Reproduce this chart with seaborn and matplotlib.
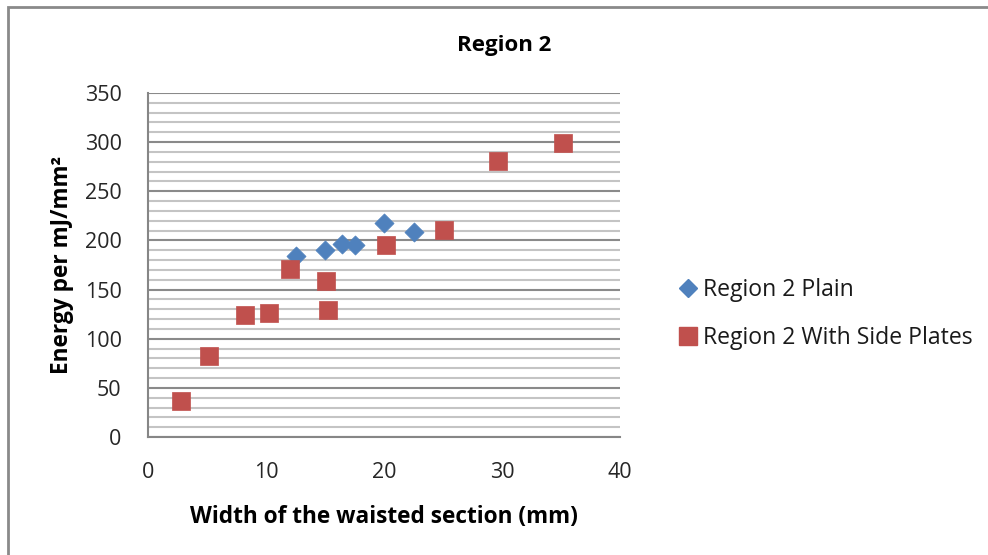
import matplotlib
matplotlib.use("Agg")
import matplotlib.pyplot as plt
import seaborn as sns
import pandas as pd
from matplotlib.lines import Line2D
from matplotlib.patches import Rectangle

# Data
plain_x = [12.5, 15.0, 16.4, 17.5, 20.0, 22.5]
plain_y = [184, 190, 196, 195, 218, 208.5]
side_x = [2.8, 5.2, 8.2, 10.25, 12.0, 15.1, 15.25, 20.2, 25.1, 29.7, 35.2]
side_y = [36.5, 82, 124, 126, 171, 159, 129, 195, 210.5, 281, 299]
series_names = ["Region 2 Plain", "Region 2 With Side Plates"]
title = "Region 2"
xlabel = "Width of the waisted section (mm)"
ylabel = "Energy per mJ/mm²"
x_ticks = [0, 10, 20, 30, 40]
y_ticks = [0, 50, 100, 150, 200, 250, 300, 350]

sns.set_theme(style="white")
plt.rcParams['font.family'] = ['Open Sans', 'DejaVu Sans']

BLUE = "#4F81BD"
RED = "#C0504D"
AXC = "#868686"

fig = plt.figure(figsize=(9.88, 5.55), dpi=100)
ax = fig.add_axes([148/988, 1-437/555, (620-148)/988, (437-93)/555])

df_plain = pd.DataFrame({"x": plain_x, "y": plain_y})
df_side = pd.DataFrame({"x": side_x, "y": side_y})

# grid: major every 50, minor every 10
for v in range(0, 351, 10):
    if v % 50 == 0:
        ax.axhline(v, color="#8a8a8a", lw=1.5, zorder=1)
    else:
        ax.axhline(v, color="#c4c4c4", lw=1.5, zorder=0.9)

sns.scatterplot(data=df_plain, x="x", y="y", ax=ax, marker="D", s=95,
                color=BLUE, edgecolor=BLUE, linewidth=0.5, zorder=3)
sns.scatterplot(data=df_side, x="x", y="y", ax=ax, marker="s", s=180,
                color=RED, edgecolor=RED, linewidth=0.5, zorder=4)

ax.set_xlim(0, 40)
ax.set_ylim(0, 350)
ax.set_xticks(x_ticks)
ax.set_yticks(y_ticks)
ax.tick_params(axis="both", which="major", labelsize=15.5, labelcolor="#262626",
               direction="out", length=6, width=1.5, color=AXC)
ax.tick_params(axis="x", pad=12)
ax.tick_params(axis="y", pad=13)
for side in ["top", "right"]:
    ax.spines[side].set_visible(False)
for side in ["left", "bottom"]:
    ax.spines[side].set_color(AXC)
    ax.spines[side].set_linewidth(1.5)

ax.set_xlabel(xlabel, fontsize=16.3, fontweight="bold", color="black", labelpad=16)
ax.set_ylabel(ylabel, fontsize=16.3, fontweight="bold", color="black", labelpad=7.5)
fig.text(504/988, 1-45/555, title, ha="center", va="center",
         fontsize=16, fontweight="bold", color="black")

handles = [
    Line2D([], [], marker="D", linestyle="none", color=BLUE, markersize=9.5),
    Line2D([], [], marker="s", linestyle="none", color=RED, markersize=13.5),
]
fig.legend(handles, series_names, loc="center left",
           bbox_to_anchor=(658/988, 1-314/555), frameon=False,
           fontsize=16.6, handlelength=0.8, handletextpad=0.25,
           labelspacing=1.05, labelcolor="#1a1a1a")

# chart border
fig.patches.append(Rectangle((8/988, -0.05), 1.1, 1-7/555+0.05,
                             transform=fig.transFigure, fill=False,
                             edgecolor="#8a8a8a", lw=2))

fig.savefig("out.png", dpi=100)
